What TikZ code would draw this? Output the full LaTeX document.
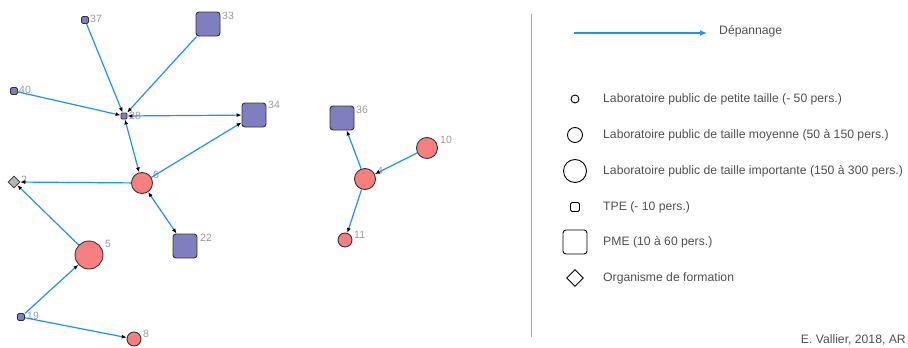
\documentclass[tikz,border=0pt]{standalone}
\usepackage{fontspec}
\setmainfont{Liberation Sans}
\usetikzlibrary{arrows.meta,shapes.geometric}
\definecolor{edgeblue}{HTML}{1E90FF}
\definecolor{labfill}{HTML}{F77F7F}
\definecolor{pmefill}{HTML}{7F7FC0}
\definecolor{labgray}{HTML}{9A9A9A}
\definecolor{txtgray}{HTML}{505050}
\definecolor{bordergray}{HTML}{333333}
\tikzset{
  labnode/.style={circle,draw=bordergray,line width=0.9pt,fill=labfill,inner sep=0pt},
  entnode/.style={rectangle,rounded corners=#1,draw=bordergray,line width=0.9pt,fill=pmefill,inner sep=0pt},
  entnode/.default=3pt,
  formnode/.style={diamond,draw=bordergray,line width=0.8pt,fill=gray!60,inner sep=0pt,minimum size=12pt},
  numlabel/.style={font=\fontsize{10.5}{12}\selectfont,text=labgray,anchor=west,inner sep=0pt},
  edge/.style={draw=edgeblue,line width=1.2pt,-{Latex[length=5pt,width=4pt,black]}},
  edgeboth/.style={draw=edgeblue,line width=1.2pt,{Latex[length=5pt,width=4pt,black]}-{Latex[length=5pt,width=4pt,black]}},
  legtext/.style={font=\fontsize{12.2}{14}\selectfont,text=txtgray,anchor=west,inner sep=0pt},
  legsym/.style={draw=black,line width=0.9pt,fill=white,inner sep=0pt},
}
\begin{document}
\begin{tikzpicture}[x=1pt,y=-1pt]
\useasboundingbox (0,0) rectangle (908,348);
% nodes
\node[entnode=1.5pt,minimum size=7pt] (n37) at (85,20) {};
\node[entnode,minimum size=24pt] (n33) at (208,24) {};
\node[entnode=1.5pt,minimum size=7pt] (n40) at (14,91) {};
\node[entnode=1pt,minimum size=6pt] (n28) at (124,116) {};
\node[entnode,minimum size=24pt] (n34) at (254,115) {};
\node[formnode] (n2) at (14,182) {};
\node[labnode,minimum size=21pt] (n6) at (142,183) {};
\node[entnode,minimum size=24pt] (n22) at (185,246) {};
\node[labnode,minimum size=28pt] (n5) at (89,255) {};
\node[entnode=1.5pt,minimum size=7pt] (n19) at (21,317) {};
\node[labnode,minimum size=14pt] (n8) at (134,339) {};
\node[entnode,minimum size=24pt] (n36) at (342,118) {};
\node[labnode,minimum size=21pt] (n10) at (427,148) {};
\node[labnode,minimum size=21pt] (n4) at (365,179) {};
\node[labnode,minimum size=14pt] (n11) at (345,240) {};
% labels
\node[numlabel] (t37) at (90,19) {37};
\node[numlabel] (t33) at (222,16) {33};
\node[numlabel] (t40) at (19,90) {40};
\node[numlabel] (t28) at (129,116) {28};
\node[numlabel] (t34) at (268,105) {34};
\node[numlabel] (t2) at (21,180) {2};
\node[numlabel] (t6) at (153,175) {6};
\node[numlabel] (t22) at (200,238) {22};
\node[numlabel] (t5) at (105,244) {5};
\node[numlabel] (t19) at (27,316) {19};
\node[numlabel] (t8) at (143,334) {8};
\node[numlabel] (t36) at (356,110) {36};
\node[numlabel] (t10) at (440,140) {10};
\node[numlabel] (t4) at (377,171) {4};
\node[numlabel] (t11) at (354,235) {11};
% edges
\draw[edge] (n37) -- (n28);
\draw[edge] (n40) -- (n28);
\draw[edge] (n33) -- (n28);
\draw[edgeboth] (n28) -- (n34);
\draw[edgeboth] (n28) -- (n6);
\draw[edge] (n6) -- (n2);
\draw[edge] (n6) -- (n34);
\draw[edgeboth] (n22) -- (n6);
\draw[edge] (n5) -- (n2);
\draw[edge] (n19) -- (n5);
\draw[edge] (n19) -- (n8);
\draw[edge] (n10) -- (n4);
\draw[edge] (n4) -- (n36);
\draw[edge] (n4) -- (n11);
% divider
\coordinate (d1) at (531,14);
\coordinate (d2) at (531,337);
\draw[gray!70,line width=0.8pt] (d1) -- (d2);
% legend
\coordinate (la1) at (574,33);
\coordinate (la2) at (707,33);
\draw[draw=edgeblue,line width=1.2pt,-{Latex[length=7pt,width=6pt,edgeblue]}] (la1) -- (la2);
\node[legtext] (lt0) at (719,31) {Dépannage};
\node[legsym,circle,minimum size=8pt] (ls1) at (575,99) {};
\node[legtext] (lt1) at (603,99) {Laboratoire public de petite taille (- 50 pers.)};
\node[legsym,circle,minimum size=15pt] (ls2) at (575,135) {};
\node[legtext] (lt2) at (603,135) {Laboratoire public de taille moyenne (50 à 150 pers.)};
\node[legsym,circle,minimum size=23pt] (ls3) at (575,171) {};
\node[legtext] (lt3) at (603,171) {Laboratoire public de taille importante (150 à 300 pers.)};
\node[legsym,rectangle,rounded corners=1.5pt,minimum size=9pt] (ls4) at (575,207) {};
\node[legtext] (lt4) at (603,207) {TPE (- 10 pers.)};
\node[legsym,rectangle,rounded corners=3pt,minimum size=24pt] (ls5) at (575,242) {};
\node[legtext] (lt5) at (603,242) {PME (10 à 60 pers.)};
\node[legsym,diamond,minimum size=17pt] (ls6) at (575,278) {};
\node[legtext] (lt6) at (603,278) {Organisme de formation};
\node[legtext,anchor=east] (credit) at (906,340) {E. Vallier, 2018, AR};
\end{tikzpicture}
\end{document}
